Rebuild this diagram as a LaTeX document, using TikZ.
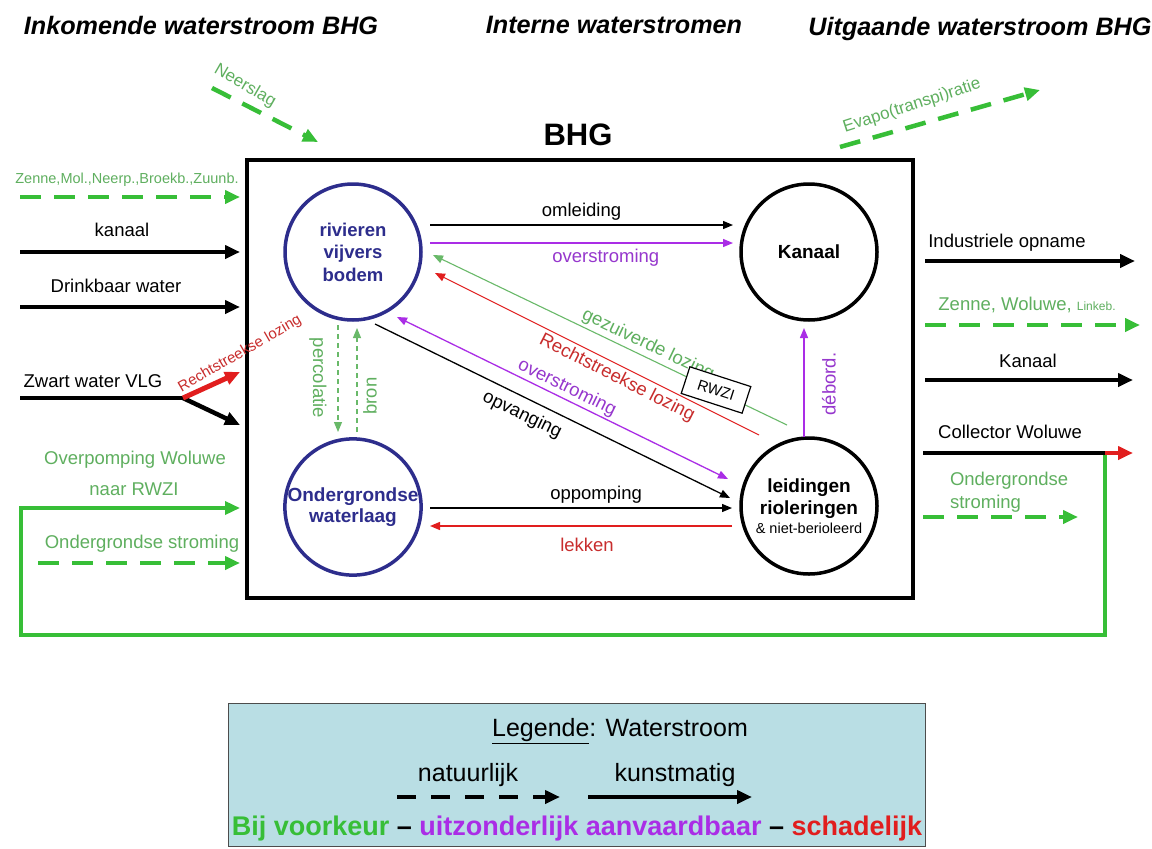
\documentclass[tikz,border=0pt]{standalone}
\usepackage{fontspec}
\setmainfont{Liberation Sans}
\usetikzlibrary{arrows.meta,calc}
\definecolor{lgreen}{RGB}{55,190,55}
\definecolor{tgreen}{RGB}{95,175,95}
\definecolor{fgreen}{RGB}{105,185,105}
\definecolor{pur}{RGB}{170,45,230}
\definecolor{tpur}{RGB}{150,55,205}
\definecolor{rd}{RGB}{225,30,30}
\definecolor{trd}{RGB}{200,45,45}
\definecolor{navy}{RGB}{45,45,140}
\definecolor{legbg}{RGB}{185,222,228}
\newcommand\fsz[2]{\fontsize{#1}{#2}\selectfont}

\begin{document}
\begin{tikzpicture}[x=1pt,y=-1pt,
  every node/.style={inner sep=0pt,outer sep=0pt},
  bighead/.style={-{Triangle[length=15pt,width=13pt]}},
  bigflow/.style={line width=4.5pt,bighead},
  natdash/.style={dash pattern=on 21pt off 13pt},
  flow/.style={line width=1.3pt,-{Triangle[length=10pt,width=8pt]}},
  twoway/.style={line width=1.3pt,{Triangle[length=10pt,width=8pt]}-{Triangle[length=10pt,width=8pt]}},
  lbl/.style={font=\fsz{18.5}{22}},
  title/.style={font=\fsz{25.2}{30}\bfseries\itshape},
  pool/.style={circle,draw=navy,line width=3.5pt,minimum size=136pt,text=navy,align=center,font=\fsz{18.5}{22.5}\bfseries},
  tank/.style={circle,draw=black,line width=3.5pt,minimum size=136pt,align=center,font=\fsz{19}{22}\bfseries}]

\useasboundingbox (0,0) rectangle (1152,849);
\fill[white] (0,0) rectangle (1152,849);

% column titles
\node[title] (tin) at (201,25) {Inkomende waterstroom BHG};
\node[title] (tint) at (614,25) {Interne waterstromen};
\node[title] (tout) at (980,29) {Uitgaande waterstroom BHG};
\node[font=\fsz{31}{36}\bfseries] (bhgname) at (578,135) {BHG};

% region boundary
\node[draw,line width=4pt,minimum width=666pt,minimum height=438pt] (bhg) at (580,379) {};

% water bodies
\node[pool] (riv) at (353,252) {rivieren\\vijvers\\bodem};
\node[pool,font=\fsz{19}{20.5}\bfseries] (ond) at (353,507) {Ondergrondse\\waterlaag};
\node[tank] (kan) at (809,252) {Kanaal};
\node[tank] (lei) at (809,506) {leidingen\\rioleringen\\[-3pt]{\fsz{14.5}{16}\mdseries\& niet-berioleerd}};

% internal flows
\draw[flow] ($(riv)+(77,-27)$) -- node[lbl,above=5pt] (lomleid) {omleiding} ($(kan)+(-76,-27)$);
\draw[flow,pur] ($(riv)+(77,-9)$) -- node[lbl,below=6pt,pos=0.58,text=tpur] (loverst) {overstroming} ($(kan)+(-76,-9)$);
\draw[flow] ($(ond)+(77,1)$) -- node[lbl,above=5pt,pos=0.55] (loppomp) {oppomping} ($(lei)+(-77,2)$);
\draw[flow,rd] ($(lei)+(-77,20)$) -- node[lbl,below=12pt,pos=0.48,text=trd] (llekken) {lekken} ($(ond)+(77,19)$);

\draw[flow,fgreen,line width=1.1pt,dash pattern=on 5pt off 4pt] ($(riv)+(-15,73)$) -- ($(ond)+(-15,-75)$);
\draw[flow,fgreen,line width=1.1pt,dash pattern=on 5pt off 4pt] ($(ond)+(4,-75)$) -- ($(riv)+(4,76)$);
\node[lbl,rotate=-90,text=tgreen] (lperc) at (318,378) {percolatie};
\node[lbl,rotate=90,text=tgreen] (lbron) at (370,396) {bron};

\draw[flow,pur] ($(lei)+(-5,-69)$) -- ($(kan)+(-5,76)$);
\node[lbl,rotate=90,text=tpur] (ldebord) at (829,384) {débord.};

\draw[flow,fgreen,line width=1.1pt] ($(lei)+(-22,-81)$) -- ($(riv)+(80,3)$);
\node[lbl,rotate=-25.6,text=tgreen] (lgezuiv) at (648,345) {gezuiverde lozing};
\node[draw,fill=white,line width=1.2pt,rotate=-18,minimum width=64pt,minimum height=28pt,font=\fsz{15}{18}] (rwzi) at (716,390) {RWZI};

\draw[flow,rd,line width=1.1pt] ($(lei)+(-50,-71)$) -- ($(riv)+(82,21)$);
\node[lbl,rotate=-27,text=trd] (lrecht) at (617,378) {Rechtstreekse lozing};

\draw[twoway,pur] ($(riv)+(44,65)$) -- ($(lei)+(-81,-27)$);
\node[lbl,rotate=-26,text=tpur] (loverst2) at (567,388) {overstroming};

\draw[flow] ($(riv)+(22,72)$) -- ($(lei)+(-79,-8)$);
\node[lbl,rotate=-26] (lopvang) at (522,415) {opvanging};

% incoming flows
\coordinate (inZ) at (240,197);
\coordinate (inK) at (240,252);
\coordinate (inD) at (240,307);
\coordinate (zsplit) at (183,398);
\coordinate (inZwA) at (240,372);
\coordinate (inZwB) at (240,425);
\coordinate (inO) at (240,508);
\coordinate (inG) at (240,563);
\coordinate (inN) at (318,142);

\draw[bigflow,lgreen,natdash] (20,197) -- (inZ);
\node[font=\fsz{14.5}{17},text=tgreen] (lzenne) at (127,180) {Zenne,Mol.,Neerp.,Broekb.,Zuunb.};
\draw[bigflow] (20,252) -- (inK);
\node[lbl] (lkanaal) at (122,230) {kanaal};
\draw[bigflow] (20,307) -- (inD);
\node[lbl] (ldrink) at (116,286) {Drinkbaar water};
\draw[line width=4.5pt] (20,398) -- (zsplit);
\draw[bigflow] (zsplit) -- (inZwB);
\draw[bigflow,rd,line width=5pt] (zsplit) -- (inZwA);
\node[lbl] (lzwart) at (93,381) {Zwart water VLG};
\node[font=\fsz{15}{18},text=trd,rotate=30] (lrecht2) at (240,354) {Rechtstreekse lozing};

\draw[bigflow,lgreen,natdash] (212,88) -- (inN);
\node[font=\fsz{17}{20},text=tgreen,rotate=-30] (lneer) at (245,86) {Neerslag};

\node[lbl,text=tgreen] (loverp) at (135,460) {Overpomping Woluwe};
\node[lbl,text=tgreen] (lnaar) at (134,489) {naar RWZI};
\draw[bigflow,lgreen,natdash] (38,563) -- (inG);
\node[lbl,text=tgreen] (londin) at (142,544) {Ondergrondse stroming};

% outgoing flows
\coordinate (outI) at (925,261);
\coordinate (outZ) at (925,325);
\coordinate (outK) at (925,380);
\coordinate (outC) at (923,453);
\coordinate (cjoin) at (1105,453);
\coordinate (outG) at (923,517);
\coordinate (outE) at (840,147);

\draw[bigflow] (outI) -- (1135,261);
\node[lbl] (lindus) at (1007,243) {Industriele opname};
\draw[bigflow,lgreen,natdash] (outZ) -- (1140,325);
\node[lbl,text=tgreen] (lzenne2) at (1027,305) {Zenne, Woluwe, {\fsz{12}{14}Linkeb.}};
\draw[bigflow] (outK) -- (1133,380);
\node[lbl] (lkanaal2) at (1028,361) {Kanaal};

% pumped return loop to the treatment plant
\draw[lgreen,line width=3.5pt,bighead] (cjoin) -- (1105,635) -- (21,635) -- (21,508) -- (inO);
\draw[line width=4.5pt] (outC) -- (cjoin);
\draw[bigflow,rd] (cjoin) -- (1133,453);
\node[lbl] (lcoll) at (1010,432) {Collector Woluwe};

\draw[bigflow,lgreen,natdash] (outG) -- (1078,517);
\node[lbl,text=tgreen,align=left,font=\fsz{18.5}{22.5},anchor=west] (londout) at (950,492) {Ondergrondse\\stroming};

\draw[bigflow,lgreen,natdash] (outE) -- (1040,90);
\node[font=\fsz{17}{20},text=tgreen,rotate=18] (levap) at (912,106) {Evapo(transpi)ratie};

% legend
\node[draw=gray!60!black,fill=legbg,line width=1pt,minimum width=697pt,minimum height=143pt] (leg) at (576.5,774.5) {};
\node[font=\fsz{25}{29}] (legt) at (620,731) {\underline{Legende}: Waterstroom};
\node[font=\fsz{25}{29}] (lnat) at (468,775) {natuurlijk};
\node[font=\fsz{25}{29}] (lkun) at (675,775) {kunstmatig};
\coordinate (natA) at (397,797);
\coordinate (natB) at (560,797);
\coordinate (kunA) at (588,797);
\coordinate (kunB) at (752,797);
\draw[bigflow,dash pattern=on 19pt off 15pt] (natA) -- (natB);
\draw[bigflow] (kunA) -- (kunB);
\node[font=\fsz{27}{31}\bfseries] (lscale) at (577,829) {\textcolor{lgreen}{Bij voorkeur} \textendash{} \textcolor{pur}{uitzonderlijk aanvaardbaar} \textendash{} \textcolor{rd}{schadelijk}};
\end{tikzpicture}
\end{document}
